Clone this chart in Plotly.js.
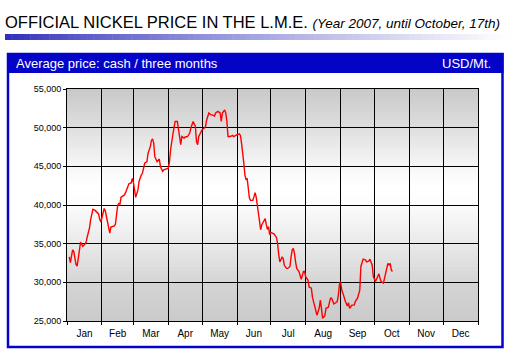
<!DOCTYPE html>
<html><head><meta charset="utf-8">
<script src="https://cdn.plot.ly/plotly-3.0.1.min.js"></script>
<style>html,body{margin:0;padding:0;background:#fff;} #chart{width:520px;height:353px;}</style>
</head><body><div id="chart"></div>
<script>
// ---- data ----
const dates = [
"2007-01-03","2007-01-04","2007-01-05","2007-01-06","2007-01-07","2007-01-08","2007-01-09","2007-01-10","2007-01-11","2007-01-12",
"2007-01-13","2007-01-14","2007-01-15","2007-01-17","2007-01-18","2007-01-19","2007-01-20","2007-01-21","2007-01-22","2007-01-23",
"2007-01-24","2007-01-26","2007-01-27","2007-01-28","2007-01-29","2007-01-30","2007-01-31",
"2007-02-01","2007-02-02","2007-02-03","2007-02-04","2007-02-05","2007-02-06","2007-02-07","2007-02-08","2007-02-09","2007-02-11",
"2007-02-12","2007-02-13","2007-02-14","2007-02-15","2007-02-16","2007-02-17","2007-02-18","2007-02-20","2007-02-21","2007-02-22",
"2007-02-24","2007-02-25","2007-02-27","2007-02-28",
"2007-03-01","2007-03-02","2007-03-03","2007-03-05","2007-03-06","2007-03-08","2007-03-09","2007-03-11","2007-03-13","2007-03-14",
"2007-03-16","2007-03-17","2007-03-18","2007-03-19","2007-03-20","2007-03-22","2007-03-24","2007-03-25","2007-03-27","2007-03-28","2007-03-30",
"2007-04-01","2007-04-02","2007-04-03","2007-04-05","2007-04-06","2007-04-07","2007-04-09","2007-04-10","2007-04-11","2007-04-12",
"2007-04-13","2007-04-15","2007-04-16","2007-04-18","2007-04-20","2007-04-21","2007-04-23","2007-04-25","2007-04-26","2007-04-27",
"2007-04-28","2007-04-30",
"2007-05-01","2007-05-03","2007-05-04","2007-05-05","2007-05-06","2007-05-07","2007-05-09","2007-05-10","2007-05-12","2007-05-13",
"2007-05-15","2007-05-17","2007-05-18","2007-05-19","2007-05-21","2007-05-22","2007-05-23","2007-05-24","2007-05-26","2007-05-28",
"2007-05-29","2007-05-31",
"2007-06-01","2007-06-03","2007-06-04","2007-06-05","2007-06-06","2007-06-07","2007-06-08","2007-06-09","2007-06-10","2007-06-11",
"2007-06-12","2007-06-13","2007-06-15","2007-06-16","2007-06-17","2007-06-18","2007-06-19","2007-06-20","2007-06-21","2007-06-22",
"2007-06-23","2007-06-24","2007-06-26","2007-06-27","2007-06-28","2007-06-29","2007-06-30",
"2007-07-01","2007-07-03","2007-07-04","2007-07-06","2007-07-07","2007-07-08","2007-07-09","2007-07-11","2007-07-12","2007-07-13",
"2007-07-15","2007-07-16","2007-07-18","2007-07-19","2007-07-20","2007-07-21","2007-07-22","2007-07-23","2007-07-24","2007-07-26",
"2007-07-27","2007-07-28","2007-07-30","2007-07-31",
"2007-08-01","2007-08-03","2007-08-04","2007-08-06","2007-08-07","2007-08-09","2007-08-10","2007-08-11","2007-08-13","2007-08-14",
"2007-08-15","2007-08-16","2007-08-18","2007-08-19","2007-08-21","2007-08-23","2007-08-24","2007-08-26","2007-08-27","2007-08-29",
"2007-08-30","2007-08-31",
"2007-09-01","2007-09-02","2007-09-04","2007-09-05","2007-09-07","2007-09-08","2007-09-09","2007-09-11","2007-09-13","2007-09-14",
"2007-09-16","2007-09-17","2007-09-18","2007-09-19","2007-09-21","2007-09-23","2007-09-24","2007-09-26","2007-09-27","2007-09-29","2007-09-30",
"2007-10-02","2007-10-03","2007-10-05","2007-10-06","2007-10-07","2007-10-09","2007-10-10","2007-10-12","2007-10-13","2007-10-14",
"2007-10-15","2007-10-16","2007-10-17"
];
const prices = [
33300,32550,33400,34200,34000,32900,32300,32100,32900,34100,
35200,34950,34650,34950,35200,35900,36450,37050,38100,38900,
39450,39300,39150,39100,38850,38200,37800,
38350,38850,39550,39250,38600,37850,37200,36350,37150,37300,
37300,37500,39000,39950,40200,40100,41000,41200,41300,41600,
42500,42750,42850,43450,
42900,41950,41000,41950,43050,43900,44100,45400,45600,46700,
47550,48350,48550,48000,46250,45600,45950,44950,44350,44550,44650,
44750,45600,47150,49100,50100,50800,50800,49950,48700,47800,
48850,48650,48800,48850,49300,49950,50800,50150,48200,47800,
48850,49350,
49750,49950,50150,51000,51600,51900,51650,51650,51500,51900,
52100,51900,50800,51900,52300,51900,50800,48850,48850,49000,
48850,49100,
49100,49200,49000,48000,46900,45450,43900,43250,43450,42400,
40900,40600,40600,41050,41600,41050,39900,38500,37450,36800,
37450,37800,38250,37450,36850,37200,36150,
36450,36350,36250,35800,35050,33650,32650,33250,33100,32200,
31800,31800,32050,33300,34200,34400,33750,32650,31800,31400,
30950,30400,31400,31400,
30700,30300,29400,29250,28050,26950,26150,25750,26700,27700,
26600,25350,25700,26650,26750,27950,27950,27200,27300,27500,
28350,29800,
30050,29000,28150,27600,26950,27350,26650,27050,27050,27500,
27950,28350,29000,32050,33000,32900,32650,32750,33000,32250,30750,
30100,30500,31100,30500,30100,29900,30500,31600,32450,32250,
32450,31600,31400
];
const yTicks = [25000,30000,35000,40000,45000,50000,55000];
const titleMain = "OFFICIAL NICKEL PRICE IN THE L.M.E.";
const titleSub = "(Year 2007, until October, 17th)";
const headerLeft = "Average price: cash / three months";
const headerRight = "USD/Mt.";

// ---- layout geometry ----
const W = 520, H = 353;
const M = {l: 67, r: 42, t: 89, b: 32};
const PW = W - M.l - M.r, PH = H - M.t - M.b;
const px = x => (x - M.l) / PW;
const py = y => (H - M.b - y) / PH;
const FONT = "Liberation Sans, Arial, sans-serif";
const BLUE = "#0404c8";

const shapes = [];
// plot background: vertical gray-white-gray gradient
const stops = [[0,202],[0.17,213],[0.33,233],[0.5,252],[0.58,255],[0.67,246],[0.83,223],[1,200]];
function grayAt(t){
  for (let i=1;i<stops.length;i++){
    if (t <= stops[i][0]) {
      const a = stops[i-1], b = stops[i];
      return a[1] + (b[1]-a[1]) * (t-a[0])/(b[0]-a[0]);
    }
  }
  return stops[stops.length-1][1];
}
const NB = 60;
for (let i=0;i<NB;i++){
  const t0 = i/NB, t1 = (i+1)/NB;
  const g = Math.round(grayAt((t0+t1)/2));
  shapes.push({type:"rect", xref:"paper", yref:"paper", x0:0, x1:1, y0:t0, y1:Math.min(1,t1+0.003),
    fillcolor:`rgb(${g},${g},${g})`, line:{width:0}, layer:"below"});
}
// gradient rule under the title
const NG = 80, gx0 = 5, gx1 = 510;
for (let i=0;i<NG;i++){
  const t = (i+0.5)/NG;
  const k = Math.min(1, Math.pow(t, 0.8));
  const r = Math.round(44 + (255-44)*k), g = Math.round(44 + (255-44)*k), b = Math.round(186 + (255-186)*k);
  shapes.push({type:"rect", xref:"paper", yref:"paper",
    x0: px(gx0 + (gx1-gx0)*i/NG), x1: px(gx0 + (gx1-gx0)*(i+1)/NG + 0.5),
    y0: py(40), y1: py(34), fillcolor:`rgb(${r},${g},${b})`, line:{width:0}, layer:"above"});
}
// blue frame and header bar
shapes.push({type:"rect", xref:"paper", yref:"paper", x0:px(8), x1:px(502.5), y0:py(347), y1:py(54),
  line:{color:BLUE, width:2.5}, fillcolor:"rgba(0,0,0,0)", layer:"above"});
shapes.push({type:"rect", xref:"paper", yref:"paper", x0:px(7), x1:px(503.5), y0:py(73), y1:py(53),
  line:{width:0}, fillcolor:BLUE, layer:"above"});

const annotations = [
  {xref:"paper", yref:"paper", x:px(14), y:py(63.5), xanchor:"left", yanchor:"middle", showarrow:false,
   text: headerLeft, font:{family:FONT, size:13, color:"#ffffff"}},
  {xref:"paper", yref:"paper", x:px(493), y:py(63.5), xanchor:"right", yanchor:"middle", showarrow:false,
   text: headerRight, font:{family:FONT, size:13, color:"#ffffff"}}
];

const trace = {
  x: dates, y: prices, type: "scatter", mode: "lines",
  line: {color: "#ff0000", width: 1.4}, hoverinfo: "skip"
};

const layout = {
  width: W, height: H, margin: M,
  paper_bgcolor: "#ffffff", plot_bgcolor: "rgba(0,0,0,0)",
  showlegend: false,
  title: {
    text: titleMain + " <i><span style='font-size:13.5px'>" + titleSub + "</span></i>",
    font: {family: FONT, size: 16.5, color: "#000000"},
    x: 5/W, xanchor: "left", xref: "container",
    y: 1 - 22/H, yanchor: "middle", yref: "container"
  },
  xaxis: {
    type: "date", range: ["2007-01-01", "2008-01-01"],
    dtick: "M1", tick0: "2007-01-01", tickformat: "%b", ticklabelmode: "period",
    showgrid: true, gridcolor: "#000000", gridwidth: 1,
    showline: true, linecolor: "#000000", linewidth: 1, mirror: true,
    ticks: "outside", ticklen: 3, tickcolor: "#000000",
    tickfont: {family: FONT, size: 10, color: "#000000"},
    fixedrange: true, zeroline: false
  },
  yaxis: {
    range: [25000, 55000], tickvals: yTicks, tickformat: ",d",
    showgrid: true, gridcolor: "#000000", gridwidth: 1,
    showline: true, linecolor: "#000000", linewidth: 1, mirror: true,
    ticks: "outside", ticklen: 3, tickcolor: "#000000",
    tickfont: {family: FONT, size: 9, color: "#000000"},
    fixedrange: true, zeroline: false
  },
  shapes: shapes,
  annotations: annotations
};

Plotly.newPlot("chart", [trace], layout, {displayModeBar: false, staticPlot: true});
</script>
</body></html>
